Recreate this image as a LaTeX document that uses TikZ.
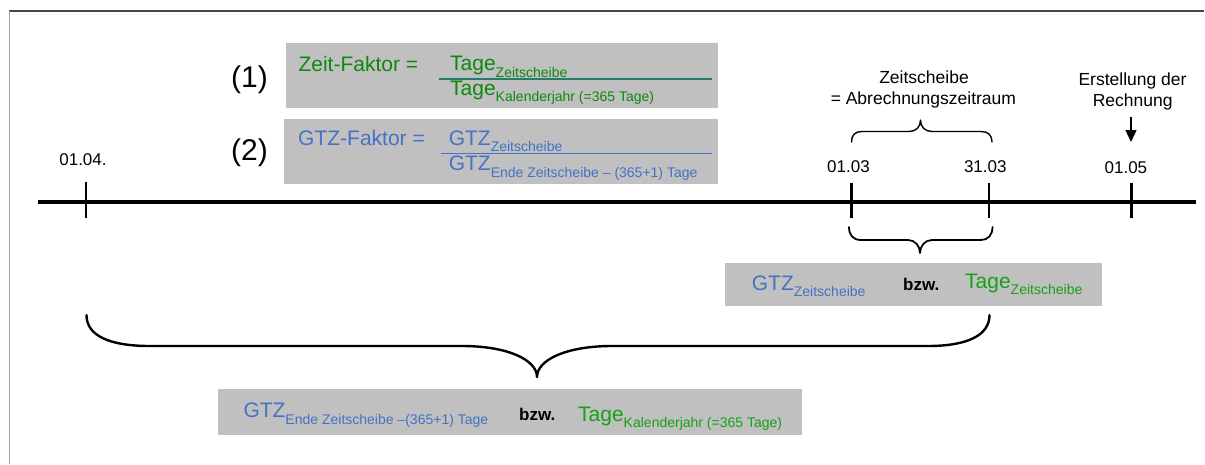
\documentclass[tikz,border=0pt]{standalone}
\usepackage{fontspec}
\setmainfont{Liberation Sans}
\usetikzlibrary{arrows.meta}
\definecolor{boxgray}{RGB}{192,192,192}
\definecolor{myblue}{RGB}{68,114,196}
\definecolor{dkgreen}{RGB}{14,136,14}
\definecolor{ltgreen}{RGB}{22,160,22}
\definecolor{fracteal}{RGB}{38,122,110}
\definecolor{topgray}{RGB}{70,70,70}
\definecolor{leftgray}{RGB}{160,160,160}
\newcommand\fs[1]{\fontsize{#1}{#1}\selectfont}
\newcommand\tsub[1]{\raisebox{-6.5pt}{\fs{14}#1}}
\begin{document}
\begin{tikzpicture}[x=1pt,y=-1pt,
  lbl/.style={inner sep=0pt, anchor=base, font=\fs{17.5}},
  datelbl/.style={inner sep=0pt, anchor=base, font=\fs{17}},
  numlbl/.style={inner sep=0pt, anchor=base west, font=\fs{30}},
  big/.style={inner sep=0pt, anchor=base west, font=\fs{21}},
  bzwlbl/.style={inner sep=0pt, anchor=base west, font=\fs{17}\bfseries},
  graybox/.style={fill=boxgray, draw=none},
  tick/.style={line width=2.2pt},
  brace/.style={line width=1.8pt, line cap=round, line join=round}
]
\useasboundingbox (0,0) rectangle (1205,464);
% frame
\draw[topgray, line width=1.2pt] (9,11) -- (1204,11);
\draw[leftgray, line width=1.7pt] (9.4,11) -- (9.4,464);

% boxes
\fill[graybox] (286,43) rectangle (718,107.5);
\fill[graybox] (284,119) rectangle (718,184);
\fill[graybox] (725,263.3) rectangle (1102.3,306);
\fill[graybox] (218.3,389.3) rectangle (802,434.5);

% (1) and (2)
\node[numlbl] (n1) at (231,87.3) {(1)};
\node[numlbl] (n2) at (231,160.7) {(2)};

% formula 1
\node[big, text=dkgreen] (zf) at (298.3,71) {Zeit-Faktor =};
\node[big, text=dkgreen] (zfnum) at (450,70.5) {Tage\tsub{Zeitscheibe}};
\draw[fracteal, line width=1.1pt] (439,79) -- (712,79);
\node[big, text=dkgreen] (zfden) at (450,95) {Tage\tsub{Kalenderjahr (=365 Tage)}};

% formula 2
\node[big, text=myblue] (gf) at (298,145) {GTZ-Faktor =};
\node[big, text=myblue] (gfnum) at (448.6,145) {GTZ\tsub{Zeitscheibe}};
\draw[myblue, line width=1.1pt] (441,153.3) -- (712,153.3);
\node[big, text=myblue] (gfden) at (448.6,170.5) {GTZ\tsub{Ende Zeitscheibe – (365+1) Tage}};

% top labels
\node[lbl] (zs1) at (924,83.3) {Zeitscheibe};
\node[lbl] (zs2) at (923.4,104) {= Abrechnungszeitraum};
\node[lbl] (er1) at (1132.5,85) {Erstellung der};
\node[lbl] (er2) at (1132.7,106.7) {Rechnung};
\coordinate (arrS) at (1131,117);
\coordinate (arrE) at (1131,142);
\draw[line width=1.3pt, -{Triangle[length=12pt,width=11pt]}] (arrS) -- (arrE);

% dates
\node[datelbl] (d0104) at (83,165) {01.04.};
\node[datelbl] (d0103) at (848.5,172.7) {01.03};
\node[datelbl] (d3103) at (985.3,172.7) {31.03};
\node[datelbl] (d0105) at (1125.9,173) {01.05};

% timeline
\draw[line width=3.7pt] (38,201.7) -- (1195.7,201.7);
\draw[line width=1.6pt] (86,182.3) -- (86,218.3);
\draw[tick] (851.5,182.7) -- (851.5,218.3);
\draw[tick] (988.7,182.7) -- (988.7,218.3);
\draw[tick] (1131.5,182.7) -- (1131.5,218.3);

% upper brace
\draw[brace, line width=1.4pt] (851.5,142) .. controls (851.5,135) and (855,131.5) .. (862,131.5)
  -- (909,131.5) .. controls (916,131.5) and (920.5,127) .. (920.5,120)
  .. controls (920.5,127) and (925,131.5) .. (932,131.5)
  -- (981,131.5) .. controls (988,131.5) and (992,135) .. (992,142);

% lower small brace
\draw[brace] (849,227) .. controls (849,235) and (853,240) .. (861,240)
  -- (908,240) .. controls (915,240) and (920,246) .. (920,253)
  .. controls (920,246) and (925,240) .. (932,240)
  -- (981,240) .. controls (988,240) and (992.5,235) .. (992.5,227);

% big brace
\draw[brace, line width=2.4pt] (86.5,315) .. controls (86.5,336) and (110,346) .. (150,346)
  -- (462,346) .. controls (508,346) and (537,360) .. (537,377)
  .. controls (537,360) and (566,346) .. (612,346)
  -- (928,346) .. controls (966,346) and (989.5,336) .. (989.5,315);

% box 3 texts
\node[big, text=myblue] (b3g) at (751.7,290) {GTZ\tsub{Zeitscheibe}};
\node[bzwlbl] (b3b) at (903,290.5) {bzw.};
\node[big, text=ltgreen] (b3t) at (965,288) {Tage\tsub{Zeitscheibe}};

% box 4 texts
\node[big, text=myblue] (b4g) at (243.3,417.7) {GTZ\tsub{Ende Zeitscheibe –(365+1) Tage}};
\node[bzwlbl] (b4b) at (519,420) {bzw.};
\node[big, text=ltgreen] (b4t) at (578,421) {Tage\tsub{Kalenderjahr (=365 Tage)}};
\end{tikzpicture}
\end{document}
